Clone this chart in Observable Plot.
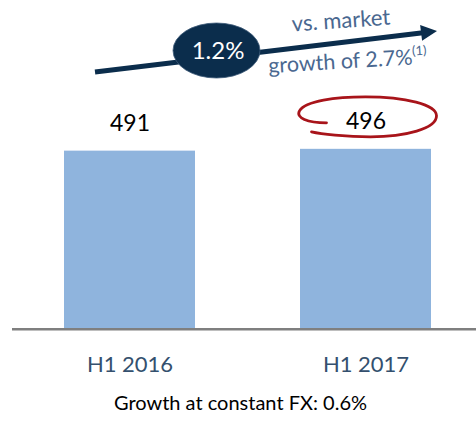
<!DOCTYPE html>
<html><head><meta charset="utf-8">
<script src="https://cdn.jsdelivr.net/npm/d3@7"></script>
<script src="https://cdn.jsdelivr.net/npm/@observablehq/plot@0.6"></script>
<style>body{margin:0;background:#fff;} svg{display:block}</style>
</head><body><div id="chart"></div>
<script>
const periods = ["H1 2016", "H1 2017"];
const revenue = [491, 496];
const growthLabel = "1.2%";
const marketLabelTop = "vs. market";
const marketLabelBottom = "growth of 2.7%";
const marketNote = "(1)";
const caption = "Growth at constant FX: 0.6%";

const data = periods.map((p, i) => ({period: p, value: revenue[i]}));

const plot = Plot.plot({
  width: 476, height: 421,
  marginLeft: 12, marginRight: 0, marginTop: 0, marginBottom: 93,
  style: {fontFamily: "Lato, sans-serif", background: "#fff"},
  x: {domain: periods, range: [64, 432], paddingInner: 0.444, paddingOuter: 0, label: null},
  y: {domain: [0, 908], axis: null},
  marks: [
    Plot.barY(data, {x: "period", y: "value", fill: "#8FB4DD"}),
    Plot.ruleY([0], {stroke: "#7f7f7f", strokeWidth: 2.5, dy: 0.7}),
    Plot.axisX({tickSize: 0, tickPadding: 27.4, fontSize: 22, color: "#34506e", label: null}),
    Plot.text(data, {x: "period", y: "value", text: d => String(d.value), dy: -28, fontSize: 23, fill: "#000"}),
    Plot.text([caption], {frameAnchor: "bottom", dy: 81.6, dx: -4, fontSize: 20, fill: "#000"})
  ]
});
document.getElementById("chart").appendChild(plot);

// annotations
const svg = d3.select(plot);
const xs = plot.scale("x"), ys = plot.scale("y");
const g = svg.append("g");
const navy = "#0b2d4c";
// arrow
g.append("line").attr("x1", 95).attr("y1", 72).attr("x2", 423).attr("y2", 32.8)
  .attr("stroke", navy).attr("stroke-width", 5);
g.append("polygon").attr("points", "420.1,25 437,31 422.1,40.8").attr("fill", navy);
// ellipse with growth
g.append("ellipse").attr("cx", 216.5).attr("cy", 50.5).attr("rx", 43.5).attr("ry", 27.5)
  .attr("fill", navy).attr("stroke", "#3d5a78").attr("stroke-width", 0.8);
g.append("text").attr("x", 218).attr("y", 51).attr("dy", "0.35em").attr("text-anchor", "middle")
  .attr("fill", "#fff").attr("font-size", 24).text(growthLabel);
// market texts
g.append("text").attr("x", 341.5).attr("y", 28).attr("text-anchor", "middle")
  .attr("transform", "rotate(-4,341.5,28)").attr("fill", "#4a6890").attr("font-size", 22)
  .text(marketLabelTop);
const t2 = g.append("text").attr("x", 348).attr("y", 68.3).attr("text-anchor", "middle")
  .attr("transform", "rotate(-3.5,348,68.3)").attr("fill", "#4a6890").attr("font-size", 21.5);
t2.append("tspan").text(marketLabelBottom);
t2.append("tspan").attr("dy", -9).attr("font-size", 13).text(marketNote);
// red hand-drawn ellipse around the 2017 label
const cx = xs.apply(periods[1]) + xs.bandwidth / 2;
const cy = ys.apply(revenue[1]) - 28;
g.append("path")
  .attr("transform", `translate(${cx},${cy})`)
  .attr("d", "M -39,2 C -58,2 -70,-3 -66,-10 C -60,-20 -30,-24 0,-24 C 40,-24 71,-16 71,-5 C 71,8 40,16 5,16 C -20,16 -45,13 -54,11")
  .attr("fill", "none").attr("stroke", "#a8141a").attr("stroke-width", 2.8).attr("stroke-linecap", "round");
</script></body></html>
